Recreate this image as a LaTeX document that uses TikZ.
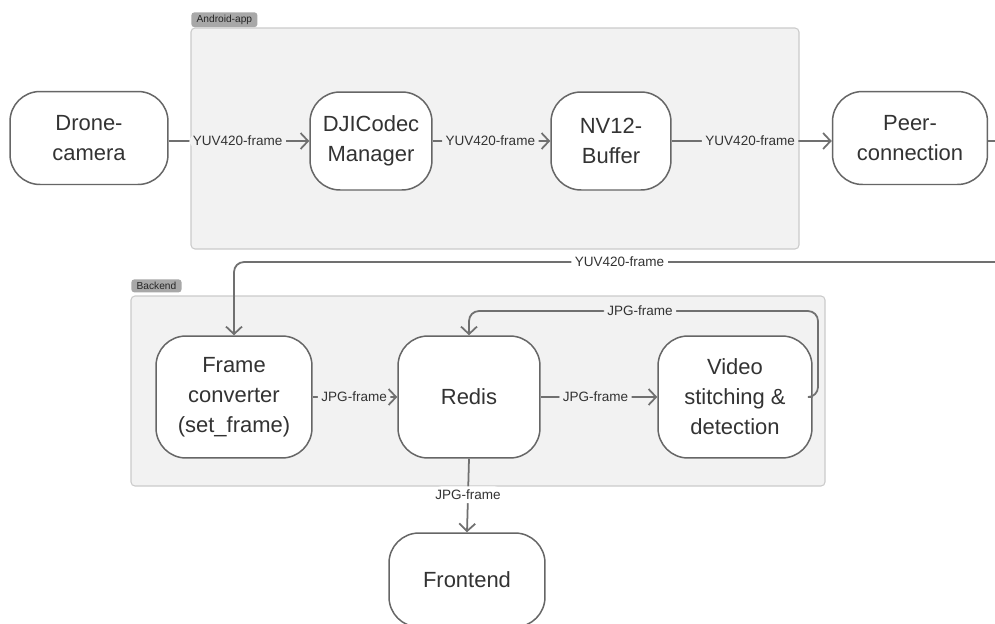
\documentclass[tikz,border=0pt]{standalone}
\usepackage{fontspec}
\setmainfont{Liberation Sans}
\usetikzlibrary{arrows.meta,positioning,calc}
\definecolor{groupfill}{HTML}{F2F2F2}
\definecolor{groupline}{HTML}{CBCBCB}
\definecolor{tagfill}{HTML}{A8A8A8}
\definecolor{edgegray}{HTML}{707070}
\definecolor{boxline}{HTML}{666666}
\definecolor{darktext}{HTML}{333333}

\begin{document}
\begin{tikzpicture}[x=0.02cm, y=-0.02cm,
    procbox/.style={draw=boxline, line width=0.85pt, fill=white, rounded corners=0.6cm, align=center, text=darktext, font=\fontsize{12.5}{17}\selectfont, inner sep=0pt},
    flowline/.style={draw=edgegray, line width=1pt, -{Straight Barb[length=0.15cm, width=0.32cm]}, rounded corners=0.2cm},
    flowlabel/.style={fill=#1, text=darktext, font=\fontsize{7.7}{9}\selectfont, inner sep=2pt},
    flowlabel/.default=white,
    groupbox/.style={draw=groupline, fill=groupfill, line width=0.6pt, rounded corners=0.08cm},
    grouptag/.style={fill=tagfill, rounded corners=0.06cm, anchor=north west, text=black!85, font=\fontsize{5.8}{7}\selectfont, inner xsep=3pt, inner ysep=1.5pt, minimum height=0.26cm}
]
\useasboundingbox[fill=white] (0,0) rectangle (995,623);

% groups
\draw[groupbox] (191,28) rectangle (799,249);
\node[grouptag] (androidtag) at (191,12) {Android-app};
\draw[groupbox] (131,296) rectangle (825,486);
\node[grouptag] (backendtag) at (131,279) {Backend};

% android side
\node[procbox, minimum width=3.16cm, minimum height=1.86cm] (cam) at (89,138) {Drone-\\camera};
\node[procbox, minimum width=2.44cm, minimum height=1.96cm] (codec) at (371,141) {DJICodec\\Manager};
\node[procbox, minimum width=2.40cm, minimum height=1.96cm] (buf) at (611,141) {NV12-\\Buffer};
\node[procbox, minimum width=3.10cm, minimum height=1.86cm] (peer) at (910,138) {Peer-\\connection};

% backend side
\node[procbox, minimum width=3.12cm, minimum height=2.44cm] (conv) at (234,397) {Frame\\converter\\(set\_frame)};
\node[procbox, minimum width=2.84cm, minimum height=2.44cm] (redis) at (469,397) {Redis};
\node[procbox, minimum width=3.08cm, minimum height=2.44cm] (video) at (735,397) {Video\\stitching \&\\detection};
\node[procbox, minimum width=3.12cm, minimum height=1.88cm] (front) at (467,580) {Frontend};

\coordinate (yuvrow) at (1005,262);
\coordinate (jpgrow) at (818,311);

% connectors
\draw[flowline] (cam.east |- codec) -- node[flowlabel=groupfill, pos=0.49] {YUV420-frame} (codec.west);
\draw[flowline] (codec.east) -- node[flowlabel=groupfill, pos=0.49] {YUV420-frame} (buf.west);
\draw[flowline] (buf.east) -- node[flowlabel=groupfill, pos=0.49] {YUV420-frame} (peer.west |- buf);
\draw[flowline] (peer.east |- buf) -| (yuvrow) -- node[flowlabel] {YUV420-frame} (yuvrow -| conv.north) -- (conv.north);
\draw[flowline] (conv.east) -- node[flowlabel=groupfill, pos=0.49] {JPG-frame} (redis.west);
\draw[flowline] (redis.east) -- node[flowlabel=groupfill, pos=0.47] {JPG-frame} (video.west);
\draw[flowline] (video.east) -| (jpgrow) -- node[flowlabel=groupfill, pos=0.51] {JPG-frame} (jpgrow -| redis.north) -- (redis.north);
\draw[flowline] (redis.south) -- node[flowlabel, pos=0.49] {JPG-frame} (front.north);
\end{tikzpicture}
\end{document}
